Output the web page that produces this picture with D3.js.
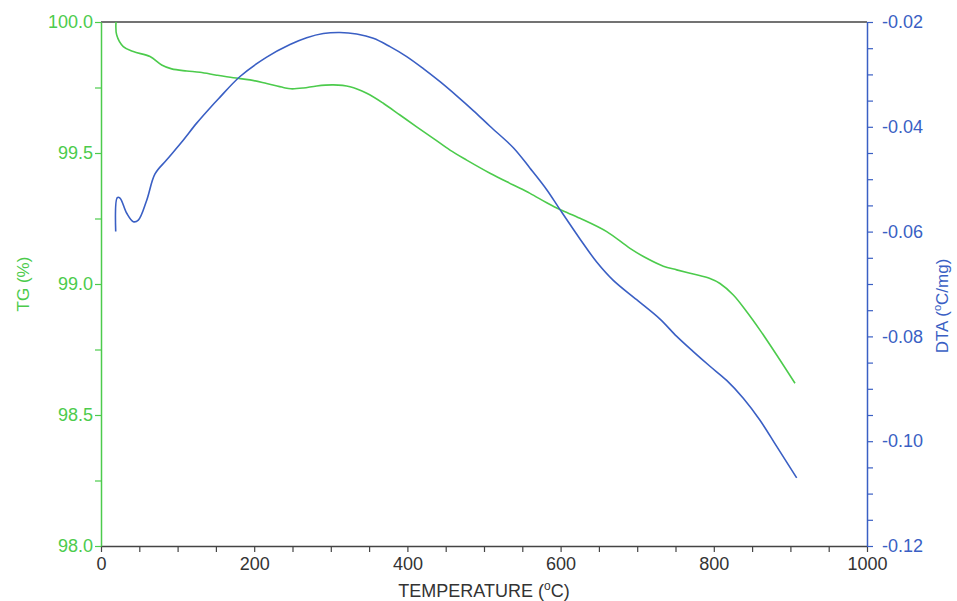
<!DOCTYPE html>
<meta charset="utf-8">
<head>
  <meta charset="UTF-8" />
  <title>TG / DTA</title>
  <script src="https://d3js.org/d3.v7.min.js"></script>
</head>
<style>
  body { margin: 0; background: #fff; }
  text { font-family: "Liberation Sans", Arial, sans-serif; }
</style>
<div id="chart"></div>
<script>

  // temperature (C) and TG (%)
  var tgTemp = [19.6, 20.5, 29.1, 42.2, 64.0, 79.2, 92.3, 111.9, 129.2, 151.0, 172.7, 194.5, 216.3, 238.0,
                248.0, 264.1, 281.6, 303.3, 325.1, 346.9, 368.5, 390.3, 412.1, 433.8, 455.6, 477.4, 507.8,
                538.3, 560.1, 581.9, 599.2, 625.3, 660.2, 690.6, 712.4, 734.1, 751.6, 773.2, 795.0, 808.1,
                825.5, 843.0, 860.3, 882.1, 906.0]
  var tgValues = [100.00, 99.950, 99.906, 99.887, 99.868, 99.836, 99.821, 99.813, 99.808, 99.797, 99.787, 99.779, 99.765, 99.750,
                  99.745, 99.748, 99.756, 99.760, 99.753, 99.728, 99.690, 99.645, 99.600, 99.556, 99.511, 99.473, 99.423,
                  99.378, 99.346, 99.310, 99.284, 99.251, 99.200, 99.136, 99.098, 99.068, 99.054, 99.038, 99.021, 99.002,
                  98.958, 98.894, 98.824, 98.729, 98.621]

  // temperature (C) and DTA (C/mg)
  var dtaTemp = [19.2, 21.3, 24.8, 33.6, 42.2, 48.7, 59.7, 70.5, 85.8, 105.4, 124.9, 142.3, 153.1, 181.5, 216.3,
                 246.7, 268.5, 290.2, 312.0, 333.8, 355.5, 377.3, 399.1, 420.8, 442.6, 464.4, 486.0, 507.8,
                 538.3, 560.1, 581.9, 599.2, 625.3, 647.1, 668.8, 699.3, 729.8, 751.6, 773.2, 795.0, 816.8,
                 838.5, 860.3, 882.1, 908.2]
  var dtaValues = [-0.0600, -0.0535, -0.0536, -0.0565, -0.0581, -0.0578, -0.0540, -0.0490, -0.0463, -0.0429, -0.0393, -0.0364, -0.0347, -0.0304, -0.0267,
                   -0.0243, -0.0230, -0.0222, -0.0220, -0.0223, -0.0231, -0.0247, -0.0266, -0.0289, -0.0314, -0.0341, -0.0369, -0.0399,
                   -0.0440, -0.0479, -0.0520, -0.0558, -0.0614, -0.0658, -0.0693, -0.0730, -0.0767, -0.0800, -0.0829, -0.0857, -0.0884,
                   -0.0918, -0.0960, -0.1010, -0.1070]

  var xTicks = [0, 200, 400, 600, 800, 1000]
  var tgTicks = [98.0, 98.5, 99.0, 99.5, 100.0]
  var dtaTicks = [-0.12, -0.10, -0.08, -0.06, -0.04, -0.02]

  var green = "#4ccb4c"
  var blue = "#3a5fc4"
  var dark = "#444"

  var width = 957, height = 601
  var margin = {top: 22, right: 90, bottom: 55, left: 101}
  var innerW = width - margin.left - margin.right,
      innerH = height - margin.top - margin.bottom

  var svg = d3.select("#chart")
    .append("svg")
      .attr("width", width)
      .attr("height", height)

  var g = svg.append("g")
      .attr("transform", "translate(" + margin.left + "," + margin.top + ")")

  var x = d3.scaleLinear().domain([0, 1000]).range([0, innerW])
  var yTG = d3.scaleLinear().domain([98, 100]).range([innerH, 0])
  var yDTA = d3.scaleLinear().domain([-0.12, -0.02]).range([innerH, 0])

  // top frame line
  g.append("line")
    .attr("x1", 0).attr("x2", innerW)
    .attr("y1", 0).attr("y2", 0)
    .attr("stroke", dark)
    .attr("stroke-width", 1.5)

  // bottom axis: minor ticks every 50, labels every 200
  var xAxis = g.append("g")
    .attr("transform", "translate(0," + innerH + ")")
    .call(d3.axisBottom(x).tickValues(d3.range(0, 1001, 50)).tickSize(6).tickSizeOuter(0)
      .tickFormat(d => xTicks.includes(d) ? d : ""))
  xAxis.select(".domain").attr("stroke", dark).attr("stroke-width", 1.5)
  xAxis.selectAll(".tick line").attr("stroke", dark).attr("stroke-width", 1.2)
  xAxis.selectAll(".tick text").attr("fill", "#333").style("font-size", "18px").attr("y", 11)

  // left axis (TG)
  var leftAxis = g.append("g")
    .call(d3.axisLeft(yTG).tickValues(d3.range(98, 100.001, 0.25)).tickSize(6).tickSizeOuter(0).tickPadding(2)
      .tickFormat(d => tgTicks.some(t => Math.abs(t - d) < 1e-6) ? d3.format(".1f")(d) : ""))
  leftAxis.select(".domain").attr("stroke", green).attr("stroke-width", 1.5)
  leftAxis.selectAll(".tick line").attr("stroke", green).attr("stroke-width", 1.2)
  leftAxis.selectAll(".tick text").attr("fill", green).style("font-size", "18px")

  // right axis (DTA)
  var rightAxis = g.append("g")
    .attr("transform", "translate(" + innerW + ",0)")
    .call(d3.axisRight(yDTA).tickValues(d3.range(-0.12, -0.0199, 0.005)).tickSize(6).tickSizeOuter(0).tickPadding(9)
      .tickFormat(d => dtaTicks.some(t => Math.abs(t - d) < 1e-6) ? d3.format(".2f")(d).replace("−", "-") : ""))
  rightAxis.select(".domain").attr("stroke", blue).attr("stroke-width", 1.5)
  rightAxis.selectAll(".tick line").attr("stroke", blue).attr("stroke-width", 1.2)
  rightAxis.selectAll(".tick text").attr("fill", blue).style("font-size", "18px")

  // curves
  var tgData = tgTemp.map((t, i) => [t, tgValues[i]])
  var dtaData = dtaTemp.map((t, i) => [t, dtaValues[i]])

  g.append("path")
    .datum(tgData)
    .attr("fill", "none")
    .attr("stroke", green)
    .attr("stroke-width", 1.6)
    .attr("d", d3.line().x(d => x(d[0])).y(d => yTG(d[1])).curve(d3.curveCatmullRom.alpha(0.5)))

  g.append("path")
    .datum(dtaData)
    .attr("fill", "none")
    .attr("stroke", blue)
    .attr("stroke-width", 1.6)
    .attr("d", d3.line().x(d => x(d[0])).y(d => yDTA(d[1])).curve(d3.curveCatmullRom.alpha(0.5)))

  // axis titles
  var xt = svg.append("text")
    .attr("x", margin.left + innerW / 2)
    .attr("y", 597)
    .attr("text-anchor", "middle")
    .attr("fill", "#333")
    .style("font-size", "18px")
  xt.append("tspan").text("TEMPERATURE (")
  xt.append("tspan").text("o").attr("dy", -7).style("font-size", "12px")
  xt.append("tspan").text("C)").attr("dy", 7)

  svg.append("text")
    .attr("transform", "translate(29," + (margin.top + innerH / 2) + ") rotate(-90)")
    .attr("text-anchor", "middle")
    .attr("fill", green)
    .style("font-size", "17px")
    .text("TG (%)")

  var yt = svg.append("text")
    .attr("transform", "translate(948,306) rotate(-90)")
    .attr("text-anchor", "middle")
    .attr("fill", blue)
    .style("font-size", "17px")
  yt.append("tspan").text("DTA (")
  yt.append("tspan").text("o").attr("dy", -7).style("font-size", "11px")
  yt.append("tspan").text("C/mg)").attr("dy", 7)

</script>
